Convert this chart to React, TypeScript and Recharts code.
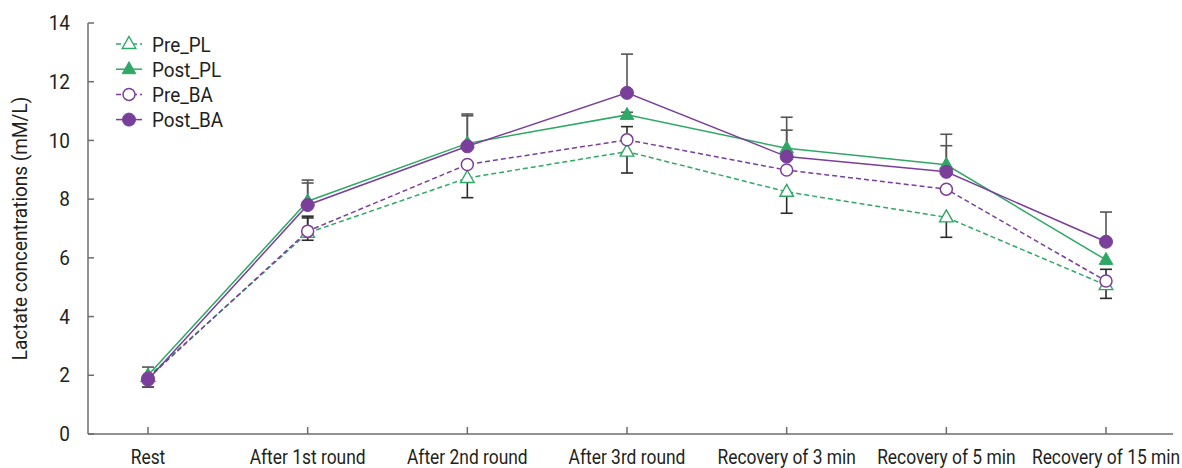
import React from 'react';
import { LineChart, Line, XAxis, YAxis, ErrorBar, Legend } from 'recharts';

const categories = [
  'Rest',
  'After 1st round',
  'After 2nd round',
  'After 3rd round',
  'Recovery of 3 min',
  'Recovery of 5 min',
  'Recovery of 15 min',
];

const yTicks = [0, 2, 4, 6, 8, 10, 12, 14];

const prePL = [1.95, 6.85, 8.72, 9.62, 8.25, 7.38, 5.07];
const postPL = [2.0, 7.93, 9.9, 10.87, 9.73, 9.17, 5.93];
const preBA = [1.9, 6.91, 9.18, 10.02, 8.99, 8.34, 5.21];
const postBA = [1.85, 7.8, 9.8, 11.62, 9.45, 8.93, 6.55];

// [lower, upper] error lengths
const prePLErr: [number, number][] = [[0.35, 0], [0.25, 0.51], [0.67, 0], [0.73, 0], [0.73, 0], [0.68, 0], [0.45, 0]];
const postPLErr: [number, number][] = [[0, 0.28], [0, 0.72], [0, 1.0], [0, 0.09], [0, 1.06], [0, 1.04], [0, 0]];
const preBAErr: [number, number][] = [[0, 0], [0, 0.51], [0, 0], [0, 0.45], [0, 0], [0, 0], [0, 0.4]];
const postBAErr: [number, number][] = [[0, 0], [0, 0.75], [0, 1.04], [0, 1.32], [0, 0.9], [0, 0.89], [0, 1.01]];

const GREEN = '#2fa866';
const PURPLE = '#7a3f9b';
const FONT = "'Roboto', 'Liberation Sans', sans-serif";
const TEXT = '#231f20';
const AXIS = '#6d6d6d';

const series = [
  { key: 'prePL', name: 'Pre_PL', values: prePL, err: prePLErr, color: GREEN, dashed: true, shape: 'tri', filled: false, errColor: '#2b2b2b' },
  { key: 'postPL', name: 'Post_PL', values: postPL, err: postPLErr, color: GREEN, dashed: false, shape: 'tri', filled: true, errColor: '#555555' },
  { key: 'preBA', name: 'Pre_BA', values: preBA, err: preBAErr, color: PURPLE, dashed: true, shape: 'circle', filled: false, errColor: '#2b2b2b' },
  { key: 'postBA', name: 'Post_BA', values: postBA, err: postBAErr, color: PURPLE, dashed: false, shape: 'circle', filled: true, errColor: '#555555' },
];

const data = categories.map((name, i) => {
  const row: any = { name };
  series.forEach((s) => {
    const v = s.values[i];
    const [lo, hi] = s.err[i];
    row[s.key] = v;
    row[s.key + 'Err'] = lo === 0 && hi === 0 ? null : [lo, hi];
    row[s.key + 'Lo'] = lo > 0 ? v - lo : null;
    row[s.key + 'Hi'] = hi > 0 ? v + hi : null;
  });
  return row;
});

function CText({ x, y, sx, anchor, size, children, dy }: any) {
  return (
    <text
      transform={`translate(${x}, ${y}) scale(${sx}, 1)`}
      x={0}
      y={0}
      dy={dy}
      textAnchor={anchor}
      fontSize={size}
      fontFamily={FONT}
      fill={TEXT}
    >
      {children}
    </text>
  );
}

function Marker({ cx, cy, shape, filled, color }: any) {
  if (cx == null || cy == null || isNaN(cx) || isNaN(cy)) return <g />;
  const fill = filled ? color : '#ffffff';
  if (shape === 'tri') {
    const pts = `${cx},${cy - 7.5} ${cx + 6.8},${cy + 4.5} ${cx - 6.8},${cy + 4.5}`;
    return <polygon points={pts} fill={fill} stroke={color} strokeWidth={filled ? 1 : 1.4} />;
  }
  return <circle cx={cx} cy={cy} r={filled ? 6.5 : 6} fill={fill} stroke={color} strokeWidth={filled ? 1 : 1.5} />;
}

function CapDot({ cx, cy, color }: any) {
  if (cx == null || cy == null || isNaN(cx) || isNaN(cy)) return <g />;
  return <line x1={cx - 6} x2={cx + 6} y1={cy} y2={cy} stroke={color} strokeWidth={1.6} />;
}

const Y_MARGIN = 18;
function YTick({ x, y, payload }: any) {
  const axisX = x + Y_MARGIN;
  return (
    <g>
      <line x1={axisX} x2={axisX + 6} y1={y} y2={y} stroke={AXIS} strokeWidth={1.5} />
      <CText x={x} y={y} sx={0.95} anchor="end" size={20} dy="0.36em">
        {payload.value}
      </CText>
    </g>
  );
}

const X_MARGIN = 30;
function XTick({ x, y, payload }: any) {
  const axisY = y - X_MARGIN;
  return (
    <g>
      <line x1={x} x2={x} y1={axisY} y2={axisY - 7} stroke={AXIS} strokeWidth={1.5} />
      <CText x={x} y={y} sx={0.87} anchor="middle" size={20}>
        {payload.value}
      </CText>
    </g>
  );
}

function LegendContent() {
  return (
    <svg width={130} height={110} style={{ display: 'block' }}>
      {series.map((s, i) => {
        const cy = 12 + i * 25.2;
        return (
          <g key={s.key}>
            <line x1={4} x2={30} y1={cy} y2={cy} stroke={s.color} strokeWidth={1.5} strokeDasharray={s.dashed ? '5 3' : undefined} />
            <Marker cx={17} cy={cy} shape={s.shape} filled={s.filled} color={s.color} />
            <CText x={40} y={cy} sx={0.9} anchor="start" size={21} dy="0.36em">
              {s.name}
            </CText>
          </g>
        );
      })}
    </svg>
  );
}

function YLabel({ viewBox }: any) {
  const x = viewBox.x + 20;
  const y = viewBox.y + viewBox.height / 2;
  return (
    <text
      transform={`translate(${x}, ${y}) rotate(-90) scale(0.95, 1)`}
      x={0}
      y={0}
      textAnchor="middle"
      dominantBaseline="central"
      fontSize={20}
      fontFamily={FONT}
      fill={TEXT}
    >
      Lactate concentrations (mM/L)
    </text>
  );
}

export default function App() {
  return (
    <div style={{ position: 'absolute', left: 0, top: 0, width: 1182, height: 468, background: '#ffffff' }}>
      <LineChart width={1182} height={468} data={data} margin={{ top: 23, right: 9, bottom: 0, left: 0 }}>
        <XAxis
          dataKey="name"
          height={34}
          padding={{ left: 60, right: 67 }}
          tick={<XTick />}
          tickSize={0}
          tickMargin={X_MARGIN}
          tickLine={false}
          axisLine={{ stroke: AXIS, strokeWidth: 1.5 }}
          interval={0}
        />
        <YAxis
          type="number"
          domain={[0, 14]}
          ticks={yTicks}
          width={88}
          tick={<YTick />}
          tickSize={0}
          tickMargin={Y_MARGIN}
          tickLine={false}
          axisLine={{ stroke: AXIS, strokeWidth: 1.5 }}
          interval={0}
          label={<YLabel />}
        />
        <Legend
          layout="horizontal"
          align="center"
          verticalAlign="middle"
          content={<LegendContent />}
          wrapperStyle={{ left: 112, top: 32, width: 130, height: 110 }}
        />
        {series.map((s) => (
          <Line
            key={s.key + '-err'}
            dataKey={s.key}
            stroke="none"
            dot={false}
            activeDot={false}
            legendType="none"
            isAnimationActive={false}
          >
            <ErrorBar dataKey={s.key + 'Err'} width={0} stroke={s.errColor} strokeWidth={1.6} direction="y" />
          </Line>
        ))}
        {series.map((s) => (
          <Line
            key={s.key + '-lo'}
            dataKey={s.key + 'Lo'}
            stroke="none"
            dot={<CapDot color={s.errColor} />}
            activeDot={false}
            legendType="none"
            isAnimationActive={false}
          />
        ))}
        {series.map((s) => (
          <Line
            key={s.key + '-hi'}
            dataKey={s.key + 'Hi'}
            stroke="none"
            dot={<CapDot color={s.errColor} />}
            activeDot={false}
            legendType="none"
            isAnimationActive={false}
          />
        ))}
        {series.map((s) => (
          <Line
            key={s.key}
            dataKey={s.key}
            name={s.name}
            stroke={s.color}
            strokeWidth={1.5}
            strokeDasharray={s.dashed ? '5 3' : undefined}
            dot={<Marker shape={s.shape} filled={s.filled} color={s.color} />}
            activeDot={false}
            isAnimationActive={false}
          />
        ))}
      </LineChart>
    </div>
  );
}
